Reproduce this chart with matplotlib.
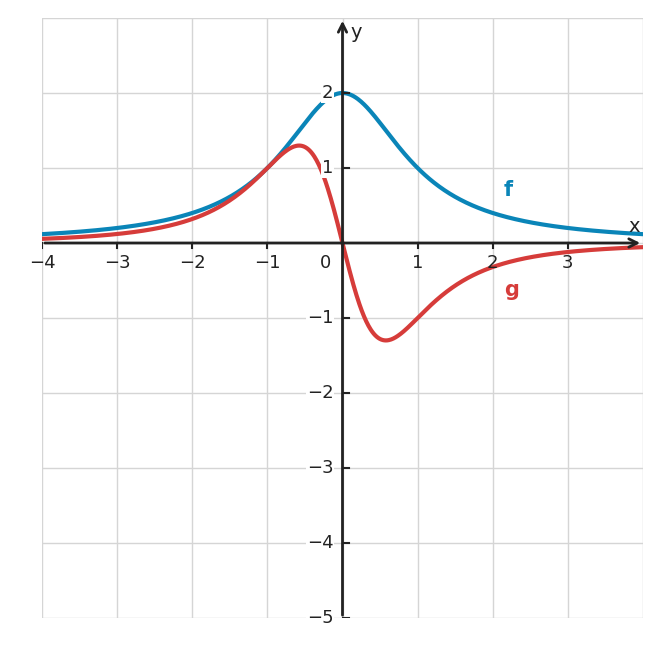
import numpy as np
import matplotlib
matplotlib.use("Agg")
import matplotlib.pyplot as plt

x_ticks = [-4, -3, -2, -1, 1, 2, 3]
y_ticks = [-5, -4, -3, -2, -1, 1, 2]
x_min, x_max = -4, 4
y_min, y_max = -5, 3

def f(x):
    return 2 / (1 + x**2)

def g(x):
    return -4 * x / (1 + x**2) ** 2

xs = np.linspace(x_min, x_max, 800)

fig = plt.figure(figsize=(6.61, 6.48), dpi=100)
ax = fig.add_axes([42/661, 30/648, 601/661, 600/648])
ax.set_xlim(x_min, x_max)
ax.set_ylim(y_min, y_max)
for s in ax.spines.values():
    s.set_visible(False)
ax.set_xticks([])
ax.set_yticks([])
for v in range(-4, 5):
    ax.axvline(v, color="#d5d5d5", lw=1, zorder=0)
for v in range(-5, 4):
    ax.axhline(v, color="#d5d5d5", lw=1, zorder=0)

ax.plot(xs, f(xs), color="#0a85b8", lw=3, zorder=3)
ax.plot(xs, g(xs), color="#d63c3a", lw=3, zorder=3)

ax.annotate("", xy=(4, 0), xytext=(-4, 0),
            arrowprops=dict(arrowstyle="->", lw=2, color="#222222", mutation_scale=15), zorder=4)
ax.annotate("", xy=(0, 3), xytext=(0, -5),
            arrowprops=dict(arrowstyle="->", lw=2, color="#222222", mutation_scale=15), zorder=4)
ax.text(3.88, 0.1, "x", fontsize=14, color="#222222", ha="center", va="bottom")
ax.text(0.1, 2.8, "y", fontsize=14, color="#222222", ha="left", va="center")

for t in x_ticks:
    ax.plot([t, t], [0, -0.07], color="#222222", lw=1.5, zorder=4)
    ax.text(t, -0.15, f"{t}".replace("-", "\u2212"), fontsize=13, ha="center", va="top", color="#222222")
ax.text(-0.22, -0.15, "0", fontsize=13, ha="center", va="top", color="#222222")
for t in y_ticks:
    ax.plot([0, 0.08], [t, t], color="#222222", lw=1.5, zorder=4)
    ax.text(-0.12, t, f"{t}".replace("-", "\u2212"), fontsize=13, ha="right", va="center", color="#222222",
            bbox=dict(facecolor="white", edgecolor="none", pad=0.5), zorder=5)

ax.text(2.2, 0.7, "f", fontsize=15, fontweight="bold", color="#0a85b8", ha="center", va="center")
ax.text(2.25, -0.62, "g", fontsize=15, fontweight="bold", color="#d63c3a", ha="center", va="center")

fig.savefig("out.png", dpi=100)
